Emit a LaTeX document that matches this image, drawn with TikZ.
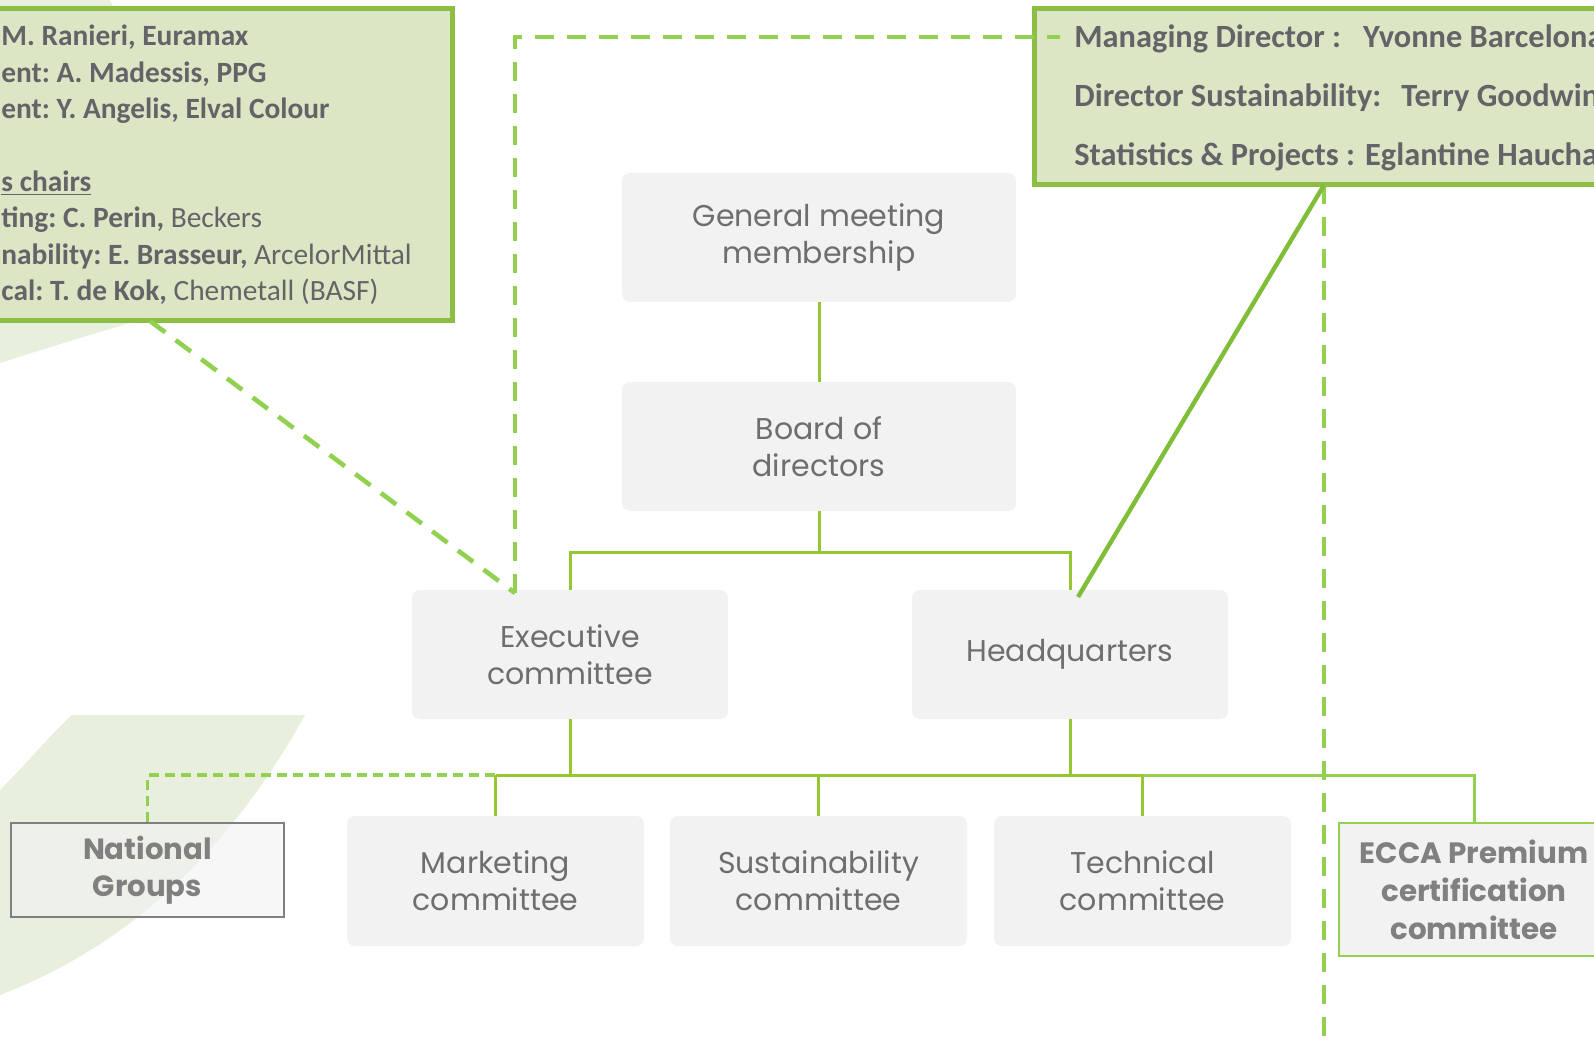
\documentclass[tikz,border=0pt]{standalone}
\usepackage{fontspec}
\newfontfamily\gfont{Poppins}
\newfontfamily\cfont{Carlito}
\definecolor{swoosh}{RGB}{232,240,221}
\definecolor{tlfill}{RGB}{220,230,196}
\definecolor{boxborder}{RGB}{139,190,66}
\definecolor{dashgreen}{RGB}{146,208,80}
\definecolor{treegreen}{RGB}{150,198,48}
\definecolor{hqgreen}{RGB}{128,190,58}
\definecolor{nodefill}{RGB}{242,242,242}
\definecolor{nodetext}{RGB}{110,110,110}
\definecolor{boxtext}{RGB}{98,100,104}
\definecolor{ngtext}{RGB}{128,128,128}
\frenchspacing
\begin{document}
\begin{tikzpicture}[x=0.5pt,y=-0.5pt,
  orgbox/.style={rectangle, rounded corners=4pt, fill=nodefill, text=nodetext,
    font=\gfont\fontsize{15}{18.5}\selectfont, align=center, inner sep=0pt},
  infobox/.style={rectangle, fill=tlfill, draw=boxborder, line width=2.5pt, inner sep=0pt},
  tltext/.style={anchor=base west, inner sep=0pt, text=boxtext, font=\cfont\fontsize{14.7}{17}\selectfont},
  trtext/.style={anchor=base west, inner sep=0pt, text=boxtext, font=\cfont\fontsize{16.2}{18}\selectfont\bfseries},
  treeline/.style={draw=treegreen, line width=1.5pt},
  bigdash/.style={draw=dashgreen, line width=2.3pt, dash pattern=on 9.5pt off 6.5pt},
  smalldash/.style={draw=dashgreen, line width=1.6pt, dash pattern=on 5pt off 3pt}]
\useasboundingbox (0,0) rectangle (1594,1053);
\clip (0,0) rectangle (1594,1053);
\fill[white] (0,0) rectangle (1594,1053);
% background swooshes
\fill[swoosh] (72,715) -- (305,715) .. controls (230,850) and (130,945) .. (0,995)
  -- (0,790) .. controls (30,760) and (50,735) .. (72,715) -- cycle;
\fill[swoosh] (0,0) -- (110,0) -- (200,200) -- (133,322) .. controls (90,335) and (40,350) .. (0,363) -- cycle;
% info boxes
\node[infobox, minimum width=256pt, minimum height=156pt] (tlbox) at (196,165) {};
\node[infobox, minimum width=333pt, minimum height=88pt] (trbox) at (1367,97) {};
\node[tltext] (tl1) at (1,46) {\bfseries M. Ranieri, Euramax};
\node[tltext] (tl2) at (1,82.4) {\bfseries ent: A. Madessis, PPG};
\node[tltext] (tl3) at (1,118.8) {\bfseries ent: Y. Angelis, Elval Colour};
\node[tltext] (tl4) at (1,191.6) {\bfseries\underline{s chairs}};
\node[tltext] (tl5) at (1,228) {{\bfseries ting: C. Perin,} Beckers};
\node[tltext] (tl6) at (1,264.4) {{\bfseries nability: E. Brasseur,} ArcelorMittal};
\node[tltext] (tl7) at (1,300.8) {{\bfseries cal: T. de Kok,} Chemetall (BASF)};
\node[trtext] (tr1) at (1074,48) {Managing Director :\hspace{11pt}Yvonne Barcelona};
\node[trtext] (tr2) at (1074,107) {Director Sustainability:\hspace{10pt}Terry Goodwin};
\node[trtext] (tr3) at (1074,166) {Statistics \& Projects :\hspace{5pt}Eglantine Haucha};
% org nodes
\node[orgbox, minimum width=197pt, minimum height=64.5pt] (gm) at (819,237.5) {General meeting\\membership};
\node[orgbox, minimum width=197pt, minimum height=64.5pt] (board) at (819,446.5) {Board of\\directors};
\node[orgbox, minimum width=158pt, minimum height=64.5pt] (exec) at (570,654.5) {Executive\\committee};
\node[orgbox, minimum width=158pt, minimum height=64.5pt] (hq) at (1070,654.5) {Headquarters};
\node[orgbox, minimum width=148.5pt, minimum height=65pt] (mkt) at (495.5,881) {Marketing\\committee};
\node[orgbox, minimum width=148.5pt, minimum height=65pt] (sus) at (818.5,881) {Sustainability\\committee};
\node[orgbox, minimum width=148.5pt, minimum height=65pt] (tech) at (1142.5,881) {Technical\\committee};
\node[rectangle, draw=ngtext, line width=1pt, fill=nodefill, fill opacity=0.6, text opacity=1,
  text=ngtext, font=\gfont\bfseries\fontsize{14.6}{18.5}\selectfont, align=center, inner sep=0pt,
  minimum width=136.5pt, minimum height=47pt] (ng) at (147.5,870) {National\\Groups};
\node[rectangle, draw=dashgreen, line width=1pt, fill=nodefill,
  text=ngtext, font=\gfont\bfseries\fontsize{14.7}{19}\selectfont, align=center, inner sep=0pt,
  minimum width=135pt, minimum height=66.5pt] (ecca) at (1474,889.5) {ECCA Premium\\certification\\committee};
% tree connectors
\coordinate (bus1) at (819,552);
\coordinate (bus2) at (819,775);
\draw[treeline] (gm.south) -- (board.north);
\draw[treeline] (board.south) -- (bus1);
\draw[treeline] (exec.north) -- (exec.north |- bus1) -- (hq.north |- bus1) -- (hq.north);
\draw[treeline] (exec.south) -- (exec.south |- bus2);
\draw[treeline] (hq.south) -- (hq.south |- bus2);
\draw[treeline] (mkt.north |- bus2) -- (tech.north |- bus2);
\draw[treeline] (mkt.north |- bus2) -- (mkt.north);
\draw[treeline] (sus.north |- bus2) -- (sus.north);
\draw[treeline] (tech.north |- bus2) -- (tech.north);
\draw[draw=dashgreen, line width=1.5pt] (tech.north |- bus2) -- (ecca.north |- bus2) -- (ecca.north);
\draw[smalldash] (ng.north) -- (ng.north |- bus2) -- (mkt.north |- bus2);
% dashed and solid links to info boxes
\coordinate (execd) at (515,593);
\coordinate (mdend) at (1060,37);
\coordinate (tlfoot) at (150,321);
\coordinate (trfoot) at (1324,185);
\coordinate (hqtop) at (1078,597);
\coordinate (trend) at (1324,1045);
\draw[bigdash] (execd) -- (execd |- mdend) -- (mdend);
\draw[bigdash] (tlfoot) -- (execd);
\draw[bigdash] (trfoot) -- (trend);
\draw[draw=hqgreen, line width=2.2pt] (trfoot) -- (hqtop);
\end{tikzpicture}
\end{document}
